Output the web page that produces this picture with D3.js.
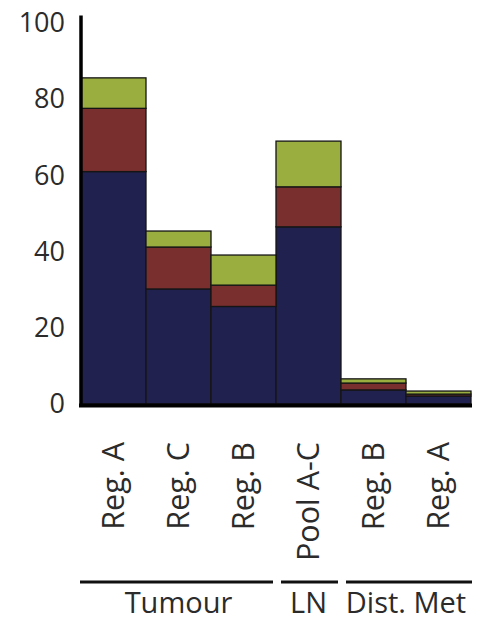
<!DOCTYPE html>
<html>
<head>
<meta charset="utf-8">
<script src="https://cdn.jsdelivr.net/npm/d3@7"></script>
<style>
  html, body { margin: 0; padding: 0; background: #fff; }
  svg { display: block; }
  text { font-family: "Open Sans", "Noto Sans", sans-serif; fill: #2b2b2b; }
</style>
</head>
<body>
<svg id="chart" width="477" height="623"></svg>
<script>
// Sample labels (left to right)
const categories = ["Reg. A", "Reg. C", "Reg. B", "Pool A-C", "Reg. B", "Reg. A"];
// Stacked segment values, bottom to top
const blueValues  = [61.0, 30.2, 25.6, 46.5, 3.7, 2.1];
const redValues   = [16.6, 11.0, 5.6, 10.5, 1.8, 0.5];
const greenValues = [8.0, 4.2, 7.9, 12.0, 1.1, 0.8];
// Y axis ticks
const yTicks = [0, 20, 40, 60, 80, 100];
// Sample groups under the axis
const groupNames = ["Tumour", "LN", "Dist. Met"];
const groupStart = [0, 3, 4];
const groupEnd   = [2, 3, 5];

const seriesKeys = ["blue", "red", "green"];
const seriesColors = { blue: "#20214f", red: "#7a2f2f", green: "#9aae40" };

const rows = categories.map((c, i) => ({
  idx: i, label: c, blue: blueValues[i], red: redValues[i], green: greenValues[i]
}));

const svg = d3.select("#chart");

const x = d3.scaleBand().domain(d3.range(categories.length)).range([81, 471]).padding(0);
const y = d3.scaleLinear().domain([0, 100]).range([404, 23]);

const stack = d3.stack().keys(seriesKeys);
const stacked = stack(rows);

// Bars
svg.append("g").selectAll("g")
  .data(stacked)
  .join("g")
  .attr("fill", d => seriesColors[d.key])
  .selectAll("rect")
  .data(d => d)
  .join("rect")
  .attr("x", d => x(d.data.idx))
  .attr("width", x.bandwidth())
  .attr("y", d => y(d[1]))
  .attr("height", d => y(d[0]) - y(d[1]))
  .attr("stroke", "#151515")
  .attr("stroke-width", 1.3);

// Y axis: line and labels only, no tick marks
const yAxis = d3.axisLeft(y).tickValues(yTicks).tickSize(0).tickPadding(16);
const gy = svg.append("g").attr("transform", "translate(81,0)").call(yAxis);
gy.select(".domain").remove();
gy.selectAll("text")
  .style("font-family", '"Open Sans", "Noto Sans", sans-serif')
  .style("font-size", "27px")
  .attr("fill", "#2b2b2b");

svg.append("line")
  .attr("x1", 81).attr("x2", 81)
  .attr("y1", y(102)).attr("y2", y(0) + 3)
  .attr("stroke", "#000").attr("stroke-width", 3.5);

// Baseline
svg.append("line")
  .attr("x1", 79).attr("x2", x.range()[1] + 1)
  .attr("y1", y(0) + 1.5).attr("y2", y(0) + 1.5)
  .attr("stroke", "#000").attr("stroke-width", 4);

// Rotated category labels
svg.append("g").selectAll("text")
  .data(rows)
  .join("text")
  .attr("transform", d => `translate(${x(d.idx) + x.bandwidth() / 2},442) rotate(-90)`)
  .attr("dy", "0.35em")
  .attr("text-anchor", "end")
  .style("font-size", "30.5px")
  .text(d => d.label);

// Group brackets and names
const groups = groupNames.map((g, i) => ({ name: g, s: groupStart[i], e: groupEnd[i] }));
const gg = svg.append("g");
gg.selectAll("line")
  .data(groups)
  .join("line")
  .attr("x1", d => x(d.s) + (d.s === 0 ? -1 : 5))
  .attr("x2", d => x(d.e) + x.bandwidth() - (d.e === categories.length - 1 ? -1 : 3))
  .attr("y1", 582).attr("y2", 582)
  .attr("stroke", "#111").attr("stroke-width", 3);
gg.selectAll("text")
  .data(groups)
  .join("text")
  .attr("x", d => (x(d.s) + x(d.e) + x.bandwidth()) / 2)
  .attr("y", 613)
  .attr("text-anchor", "middle")
  .style("font-size", "29px")
  .text(d => d.name);
</script>
</body>
</html>
